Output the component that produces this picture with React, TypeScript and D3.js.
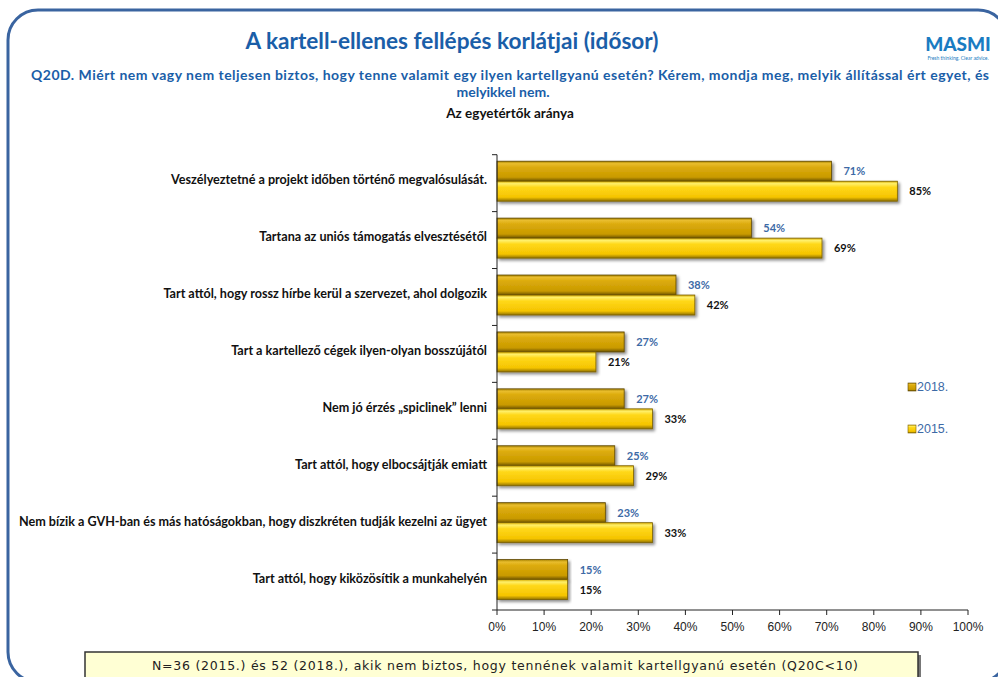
import React from "react";
import * as d3 from "d3";

const categories = [
  "Veszélyeztetné a projekt időben történő megvalósulását.",
  "Tartana az uniós támogatás elvesztésétől",
  "Tart attól, hogy rossz hírbe kerül a szervezet, ahol dolgozik",
  "Tart a kartellező cégek ilyen-olyan bosszújától",
  "Nem jó érzés „spiclinek” lenni",
  "Tart attól, hogy elbocsájtják emiatt",
  "Nem bízik a GVH-ban és más hatóságokban, hogy diszkréten tudják kezelni az ügyet",
  "Tart attól, hogy kiközösítik a munkahelyén",
];
const values2018 = [71, 54, 38, 27, 27, 25, 23, 15];
const values2015 = [85, 69, 42, 21, 33, 29, 33, 15];
const seriesNames = ["2018.", "2015."];
const xTicks = [0, 10, 20, 30, 40, 50, 60, 70, 80, 90, 100];

const W = 998;
const H = 677;
const F = "Lato, 'Open Sans', sans-serif";

export default function App() {
  const x = d3.scaleLinear().domain([0, 100]).range([497, 968]);
  const y = d3.scaleBand<string>().domain(categories).range([154.7, 610]).paddingInner(0).paddingOuter(0);
  const bw = y.bandwidth();
  const barH = 20;
  const offset = 6.5;
  const bounds = categories.map((_, i) => y.range()[0] + i * bw).concat([y.range()[1]]);

  return (
    <svg width={W} height={H} style={{ position: "absolute", left: 0, top: 0, background: "#fff" }}>
      <defs>
        <linearGradient id="g18" x1="0" y1="0" x2="0" y2="1">
          <stop offset="0%" stopColor="#a88300" />
          <stop offset="12%" stopColor="#e9bd2e" />
          <stop offset="30%" stopColor="#dcab0c" />
          <stop offset="80%" stopColor="#c99a00" />
          <stop offset="100%" stopColor="#6e5400" />
        </linearGradient>
        <linearGradient id="g15" x1="0" y1="0" x2="0" y2="1">
          <stop offset="0%" stopColor="#d8ac00" />
          <stop offset="12%" stopColor="#fff06a" />
          <stop offset="30%" stopColor="#ffd81a" />
          <stop offset="80%" stopColor="#f5c400" />
          <stop offset="100%" stopColor="#8f7100" />
        </linearGradient>
        <filter id="sh" x="-5%" y="-20%" width="110%" height="160%">
          <feDropShadow dx="2" dy="2" stdDeviation="1.5" floodColor="#000" floodOpacity="0.45" />
        </filter>
      </defs>

      {/* frame */}
      <rect x={8} y={10} width={1000} height={672} rx={30} ry={30} fill="none" stroke="#3a64a0" strokeWidth={3} />

      {/* titles */}
      <text x={452} y={49} textAnchor="middle" fontFamily={F} fontWeight="bold" fontSize={22.6} fill="#1a5ea8">
        A kartell-ellenes fellépés korlátjai (idősor)
      </text>
      <text x={510} y={80} textAnchor="middle" fontFamily={F} fontWeight="bold" fontSize={14} fill="#1a5ea8" textLength={958} lengthAdjust="spacing">
        Q20D. Miért nem vagy nem teljesen biztos, hogy tenne valamit egy ilyen kartellgyanú esetén? Kérem, mondja meg, melyik állítással ért egyet, és
      </text>
      <text x={503} y={97} textAnchor="middle" fontFamily={F} fontWeight="bold" fontSize={14} fill="#1a5ea8">
        melyikkel nem.
      </text>
      <text x={510} y={118} textAnchor="middle" fontFamily={F} fontWeight="bold" fontSize={13.5} fill="#111">
        Az egyetértők aránya
      </text>

      {/* logo */}
      <text x={958} y={51} textAnchor="middle" fontFamily={F} fontWeight="900" fontSize={19} fill="#1a7cc2">
        MASMI
      </text>
      <text x={958} y={60} textAnchor="middle" fontFamily={F} fontSize={5} fill="#1a7cc2">
        Fresh thinking. Clear advice.
      </text>

      {/* bars */}
      {categories.map((c, i) => {
        const y0 = (y(c) as number) + offset;
        return (
          <g key={c}>
            <rect x={x(0)} y={y0} width={x(values2018[i]) - x(0)} height={barH} fill="url(#g18)" stroke="#5e4700" strokeWidth={0.8} filter="url(#sh)" />
            <rect x={x(0)} y={y0 + barH} width={x(values2015[i]) - x(0)} height={barH} fill="url(#g15)" stroke="#7a6000" strokeWidth={0.8} filter="url(#sh)" />
            <text x={x(values2018[i]) + 12} y={y0 + barH / 2 + 4} fontFamily={F} fontWeight="bold" fontSize={11} fill="#3d6aa6">
              {values2018[i]}%
            </text>
            <text x={x(values2015[i]) + 12} y={y0 + barH * 1.5 + 4} fontFamily={F} fontWeight="bold" fontSize={11} fill="#111">
              {values2015[i]}%
            </text>
            <text x={487} y={(y(c) as number) + bw / 2 + 1} textAnchor="end" fontFamily={F} fontWeight="bold" fontSize={12.6} fill="#111">
              {c}
            </text>
          </g>
        );
      })}

      {/* y axis */}
      <line x1={x(0)} x2={x(0)} y1={y.range()[0]} y2={y.range()[1]} stroke="#222" strokeWidth={1} />
      {bounds.map((b, i) => (
        <line key={i} x1={x(0) - 5} x2={x(0)} y1={b} y2={b} stroke="#222" strokeWidth={1} />
      ))}

      {/* x axis */}
      <line x1={x(0)} x2={x(100)} y1={610} y2={610} stroke="#222" strokeWidth={1} />
      {xTicks.map((t) => (
        <g key={t}>
          <line x1={x(t)} x2={x(t)} y1={610} y2={615} stroke="#222" strokeWidth={1} />
          <text x={x(t)} y={631} textAnchor="middle" fontFamily="'Liberation Sans', Arial, sans-serif" fontSize={12} fill="#222">
            {t}%
          </text>
        </g>
      ))}

      {/* legend */}
      {seriesNames.map((s, i) => (
        <g key={s}>
          <rect x={908} y={383 + i * 42} width={8} height={8} fill={i === 0 ? "url(#g18)" : "url(#g15)"} stroke={i === 0 ? "#5e4700" : "#7a6000"} strokeWidth={0.6} />
          <text x={917} y={391 + i * 42} fontFamily="'Liberation Sans', Arial, sans-serif" fontSize={12.5} fill="#3d6aa6">
            {s}
          </text>
        </g>
      ))}

      {/* footnote box */}
      <rect x={88} y={655} width={833} height={40} fill="#777" />
      <rect x={85} y={652} width={833} height={40} fill="#ffffd4" stroke="#333" strokeWidth={1.5} />
      <text x={505} y={670} textAnchor="middle" fontFamily="'DejaVu Sans', sans-serif" fontSize={12.5} fill="#222" textLength={706} lengthAdjust="spacing">
        N=36 (2015.) és 52 (2018.), akik nem biztos, hogy tennének valamit kartellgyanú esetén (Q20C&lt;10)
      </text>
    </svg>
  );
}
